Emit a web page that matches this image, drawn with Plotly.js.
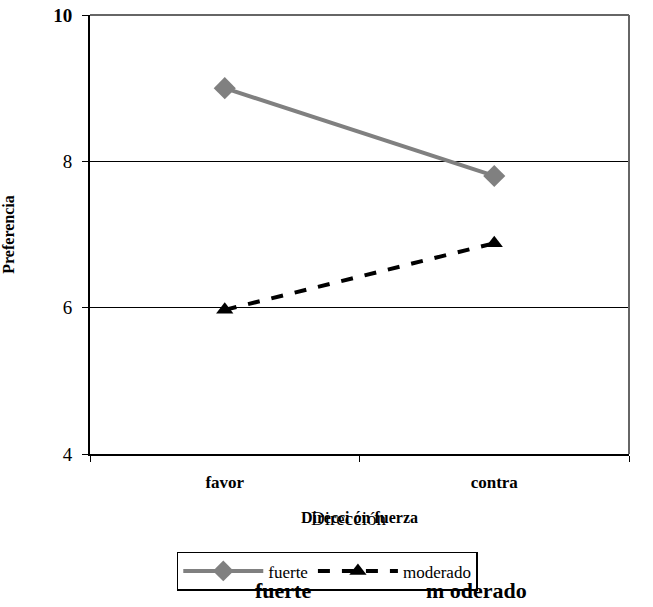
<!DOCTYPE html>
<html><head><meta charset="utf-8">
<script src="https://cdn.plot.ly/plotly-3.0.1.min.js"></script>
<style>body{margin:0;background:#fff}#chart{width:653px;height:607px}</style>
</head><body><div id="chart"></div>
<script>
var categories = ["favor", "contra"];
var fuerte = [9.0, 7.8];
var moderado = [5.97, 6.88];
var yTicks = [4, 6, 8, 10];
var yTickText = ["4", "6", "8", "<b>10</b>"];
var serif = "Times New Roman";

var traces = [
  {x: categories, y: fuerte, name: "fuerte", type: "scatter", mode: "lines+markers",
   line: {color: "#808080", width: 4}, marker: {symbol: "diamond", size: 17, color: "#808080"}},
  {x: categories, y: moderado, name: "moderado", type: "scatter", mode: "lines+markers",
   line: {color: "#000000", width: 4, dash: "dash"}, marker: {symbol: "triangle-up", size: 15, color: "#000000"}}
];

var layout = {
  width: 653, height: 607,
  margin: {l: 90, r: 24, t: 15, b: 153},
  paper_bgcolor: "#fff", plot_bgcolor: "#fff",
  font: {family: serif, size: 16, color: "#000"},
  showlegend: true,
  legend: {orientation: "h", x: 0.161, y: -0.223, xanchor: "left", yanchor: "top",
           bordercolor: "#000", borderwidth: 1.5, font: {family: serif, size: 17, color: "#000"},
           itemwidth: 80},
  xaxis: {type: "category", range: [-0.5, 1.5], tickson: "boundaries", ticks: "outside", ticklen: 6,
          tickcolor: "#000", showline: true, linecolor: "#000", linewidth: 2, showgrid: false,
          ticklabelstandoff: 12,
          tickfont: {family: serif, size: 17, color: "#000", weight: "bold"},
          title: {text: "<b>Direcci ón fuerza</b>", font: {family: serif, size: 16}, standoff: 20}},
  yaxis: {range: [4, 10], tickvals: yTicks, ticktext: yTickText, ticks: "outside", ticklen: 6, tickcolor: "#000",
          showline: true, linecolor: "#000", linewidth: 2, showgrid: true, gridcolor: "#000", gridwidth: 1.2,
          ticklabelstandoff: 6,
          tickfont: {family: serif, size: 19, color: "#000"}, zeroline: false,
          title: {text: "<b>Preferencia</b>", font: {family: serif, size: 16}, standoff: 40}},
  shapes: [
    {type: "line", xref: "paper", yref: "paper", x0: 0, x1: 1, y0: 1, y1: 1, line: {color: "#666", width: 2}},
    {type: "line", xref: "paper", yref: "paper", x0: 1, x1: 1, y0: 0, y1: 1, line: {color: "#666", width: 2}}
  ],
  annotations: [
    {xref: "paper", yref: "paper", x: 0.48, y: -0.118, yanchor: "top", text: "Dirección",
     showarrow: false, font: {family: serif, size: 19, color: "#000"}},
    {xref: "paper", yref: "paper", x: 0.302, y: -0.31, yanchor: "middle", xanchor: "left", text: "<b>fuerte</b>",
     showarrow: false, font: {family: serif, size: 22, color: "#000"}},
    {xref: "paper", yref: "paper", x: 0.62, y: -0.31, yanchor: "middle", xanchor: "left", text: "<b>m oderado</b>",
     showarrow: false, font: {family: serif, size: 22, color: "#000"}}
  ]
};
Plotly.newPlot("chart", traces, layout, {displayModeBar: false, staticPlot: true});
</script></body></html>
